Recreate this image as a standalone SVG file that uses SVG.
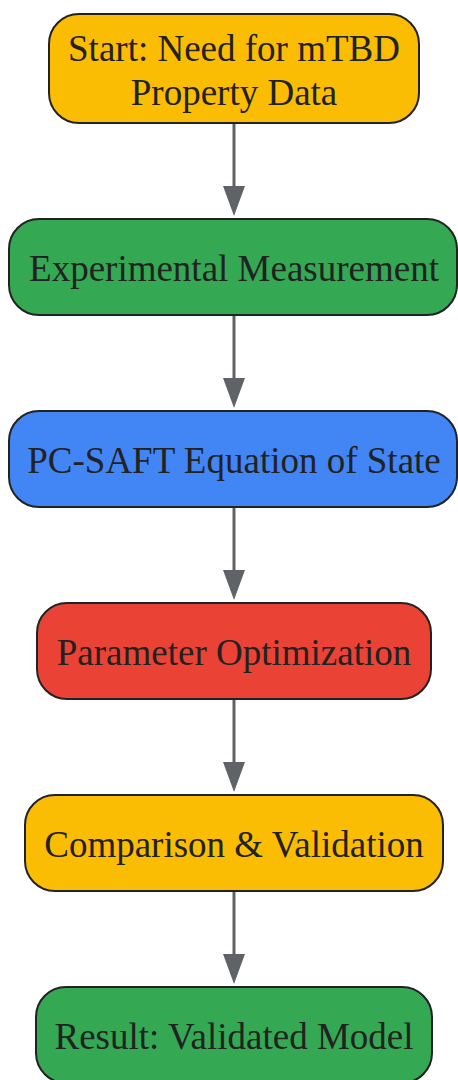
<svg xmlns="http://www.w3.org/2000/svg" width="458" height="1080" viewBox="0 0 458 1080">
<style>
.n{stroke:#222;stroke-width:2}
.t{font-family:"Liberation Serif","Times New Roman",serif;font-size:37px;fill:#222;text-anchor:middle}
.e{stroke:#5f6368;stroke-width:3;fill:none}
.a{fill:#5f6368}
</style>
<rect width="458" height="1080" fill="#fff"/>
<g id="edges">
<line class="e" x1="234" y1="124" x2="234" y2="188"/><path class="a" d="M223,186 L245,186 L234,216 Z"/>
<line class="e" x1="234" y1="316" x2="234" y2="380"/><path class="a" d="M223,378 L245,378 L234,408 Z"/>
<line class="e" x1="234" y1="508" x2="234" y2="572"/><path class="a" d="M223,570 L245,570 L234,600 Z"/>
<line class="e" x1="234" y1="700" x2="234" y2="764"/><path class="a" d="M223,762 L245,762 L234,792 Z"/>
<line class="e" x1="234" y1="892" x2="234" y2="956"/><path class="a" d="M223,954 L245,954 L234,984 Z"/>
</g>
<g id="start">
<rect class="n" x="49" y="14" width="370" height="109" rx="30" fill="#FBBC04"/>
<text class="t" x="234" y="61">Start: Need for mTBD</text>
<text class="t" x="234" y="105">Property Data</text>
</g>
<g id="experimental">
<rect class="n" x="9" y="219" width="448" height="96" rx="30" fill="#34A853"/>
<text class="t" x="234" y="281">Experimental Measurement</text>
</g>
<g id="pcsaft">
<rect class="n" x="9" y="411" width="448" height="96" rx="30" fill="#4285F4"/>
<text class="t" x="234" y="473">PC-SAFT Equation of State</text>
</g>
<g id="optimization">
<rect class="n" x="37" y="603" width="394" height="96" rx="30" fill="#EA4335"/>
<text class="t" x="234" y="665">Parameter Optimization</text>
</g>
<g id="comparison">
<rect class="n" x="25" y="795" width="418" height="96" rx="30" fill="#FBBC04"/>
<text class="t" x="234" y="857">Comparison &amp; Validation</text>
</g>
<g id="result">
<rect class="n" x="36" y="987" width="396" height="96" rx="30" fill="#34A853"/>
<text class="t" x="234" y="1049">Result: Validated Model</text>
</g>
</svg>
